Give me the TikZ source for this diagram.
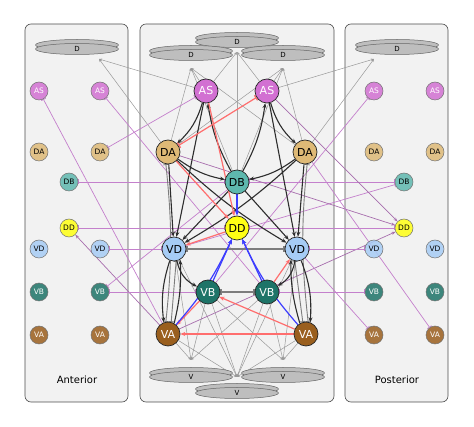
\documentclass[tikz,border=0pt]{standalone}
\usepackage{fontspec}
\setmainfont{DejaVu Sans}
\usetikzlibrary{arrows.meta,shapes.geometric}

\definecolor{ascol}{RGB}{210,112,210}
\definecolor{dacol}{RGB}{222,185,118}
\definecolor{dbcol}{RGB}{94,184,174}
\definecolor{ddcol}{RGB}{255,255,20}
\definecolor{vdcol}{RGB}{166,204,245}
\definecolor{vbcol}{RGB}{30,116,104}
\definecolor{vacol}{RGB}{154,95,30}
\definecolor{discgray}{RGB}{190,190,190}
\definecolor{panelbg}{RGB}{242,242,242}
\definecolor{purp}{RGB}{196,128,204}
\definecolor{redl}{RGB}{255,110,110}
\definecolor{bluel}{RGB}{60,60,255}
\definecolor{darkl}{RGB}{45,45,45}
\definecolor{grayl}{RGB}{125,125,125}

\pgfdeclarelayer{panels}
\pgfdeclarelayer{edges}
\pgfsetlayers{panels,edges,main}

\tikzstyle{panel} = [draw=black!70, fill=panelbg, line width=0.6pt, rounded corners=6pt]
\tikzstyle{cell} = [circle, draw=black!85, line width=0.7pt, minimum size=24pt, inner sep=0pt, font=\fontsize{11}{11}\selectfont]
\tikzstyle{small} = [circle, draw=black!55, line width=0.5pt, minimum size=18pt, inner sep=0pt, font=\fontsize{7.5}{7.5}\selectfont, fill opacity=0.85, text opacity=1]
\tikzstyle{disc} = [ellipse, draw=black!60, fill=discgray, line width=0.5pt, minimum width=83pt, minimum height=11pt, inner sep=0pt, font=\fontsize{7}{7}\selectfont, preaction={draw=black!60, fill=discgray, transform canvas={yshift=4pt}}]
\tikzstyle{exc} = [draw=darkl, line width=1.1pt, -{Stealth[length=5pt,width=4pt]}]
\tikzstyle{gap} = [draw=grayl, line width=1.4pt, {Bar[width=6pt]}-{Bar[width=6pt]}]
\tikzstyle{thingap} = [draw=grayl, line width=0.9pt, {Bar[width=5pt]}-{Bar[width=5pt]}]
\tikzstyle{redexc} = [draw=redl, line width=1.2pt, -{Stealth[length=5pt,width=4pt]}]
\tikzstyle{redgap} = [draw=redl, line width=1.2pt, {Bar[width=6pt]}-{Bar[width=6pt]}]
\tikzstyle{blueexc} = [draw=bluel, line width=1.2pt, -{Stealth[length=5pt,width=4pt]}]
\tikzstyle{pgap} = [draw=purp, line width=0.7pt, {Bar[width=5pt]}-{Bar[width=5pt]}]
\tikzstyle{pinh} = [draw=purp, line width=0.7pt, -{Bar[width=5pt]}]
\tikzstyle{pexc} = [draw=purp!85!black, line width=0.7pt, -{Stealth[length=4pt,width=3pt]}]
\tikzstyle{dline} = [draw=black!40, line width=0.5pt, -{Stealth[length=3pt,width=2.5pt]}]

\begin{document}
\begin{tikzpicture}[x=1pt, y=-1pt]
\useasboundingbox (0,0) rectangle (474,427);

\begin{pgfonlayer}{panels}
\draw[panel] (25,24) rectangle (128,402);
\draw[panel] (140,24) rectangle (334,402);
\draw[panel] (345,24) rectangle (448,402);
\end{pgfonlayer}

% anterior side
\node[disc] (LD) at (77,49) {D};
\coordinate (LDtip) at (99,59);
\node[small, fill=ascol, text=white] (LASa) at (39,91) {AS};
\node[small, fill=ascol, text=white] (LASb) at (100,91) {AS};
\node[small, fill=dacol] (LDAa) at (39,152) {DA};
\node[small, fill=dacol] (LDAb) at (100,152) {DA};
\node[small, fill=dbcol] (LDB) at (69,182) {DB};
\node[small, fill=ddcol] (LDD) at (69,228) {DD};
\node[small, fill=vdcol] (LVDa) at (39,249) {VD};
\node[small, fill=vdcol] (LVDb) at (100,249) {VD};
\node[small, fill=vbcol, text=white] (LVBa) at (39,292) {VB};
\node[small, fill=vbcol, text=white] (LVBb) at (100,292) {VB};
\node[small, fill=vacol, text=white] (LVAa) at (39,335) {VA};
\node[small, fill=vacol, text=white] (LVAb) at (100,335) {VA};
\node[font=\fontsize{10}{10}\selectfont] (ant) at (77,380) {Anterior};

% posterior side
\node[disc] (RD) at (397,49) {D};
\coordinate (RDtip) at (374,59);
\node[small, fill=ascol, text=white] (RASa) at (374,91) {AS};
\node[small, fill=ascol, text=white] (RASb) at (435,91) {AS};
\node[small, fill=dacol] (RDAa) at (374,152) {DA};
\node[small, fill=dacol] (RDAb) at (435,152) {DA};
\node[small, fill=dbcol] (RDB) at (404,182) {DB};
\node[small, fill=ddcol] (RDD) at (404,228) {DD};
\node[small, fill=vdcol] (RVDa) at (374,249) {VD};
\node[small, fill=vdcol] (RVDb) at (435,249) {VD};
\node[small, fill=vbcol, text=white] (RVBa) at (374,292) {VB};
\node[small, fill=vbcol, text=white] (RVBb) at (435,292) {VB};
\node[small, fill=vacol, text=white] (RVAa) at (374,335) {VA};
\node[small, fill=vacol, text=white] (RVAb) at (435,335) {VA};
\node[font=\fontsize{10}{10}\selectfont] (post) at (397,380) {Posterior};

% middle segment
\node[disc] (Dt) at (237,42) {D};
\node[disc] (Dl) at (191,55) {D};
\node[disc] (Dr) at (283,55) {D};
\coordinate (Dttip) at (237,52);
\coordinate (Dltip) at (191,68);
\coordinate (Drtip) at (283,68);
\node[cell, fill=ascol, text=white] (ASl) at (206,91) {AS};
\node[cell, fill=ascol, text=white] (ASr) at (267,91) {AS};
\node[cell, fill=dacol] (DAl) at (168,152) {DA};
\node[cell, fill=dacol] (DAr) at (305,152) {DA};
\node[cell, fill=dbcol] (DB) at (237,182) {DB};
\node[cell, fill=ddcol] (DD) at (237,228) {DD};
\node[cell, fill=vdcol] (VDl) at (174,249) {VD};
\node[cell, fill=vdcol] (VDr) at (297,249) {VD};
\node[cell, fill=vbcol, text=white] (VBl) at (208,292) {VB};
\node[cell, fill=vbcol, text=white] (VBr) at (267,292) {VB};
\node[cell, fill=vacol, text=white] (VAl) at (168,334) {VA};
\node[cell, fill=vacol, text=white] (VAr) at (306,334) {VA};
\node[disc] (Vl) at (191,377) {V};
\node[disc] (Vr) at (283,377) {V};
\node[disc] (Vb) at (237,393) {V};
\coordinate (Vltip) at (191,360);
\coordinate (Vrtip) at (283,360);
\coordinate (Vbtip) at (237,377);

\begin{pgfonlayer}{edges}
% to the D and V muscles
\foreach \n in {ASl, DAl, DB, DAr} \draw[dline] (\n) -- (Dltip);
\foreach \n in {ASr, DAr, DB, DAl} \draw[dline] (\n) -- (Drtip);
\foreach \n in {ASl, ASr} \draw[dline] (\n) -- (Dttip);
\draw[dline, line width=1pt, draw=black!35] (DB) -- (Dttip);
\draw[dline] (ASl) -- (LDtip);
\draw[dline] (DAl) -- (LDtip);
\draw[dline] (ASr) -- (RDtip);
\draw[dline] (DAr) -- (RDtip);
\foreach \n in {VAl, VBl, VDl, VBr} \draw[dline] (\n) -- (Vltip);
\foreach \n in {VAr, VBr, VDr, VBl} \draw[dline] (\n) -- (Vrtip);
\foreach \n in {VAl, VBl, VBr, VAr, VDl, VDr} \draw[dline] (\n) -- (Vbtip);

% to the neighbouring segments
\draw[pinh] (VAl) -- (LASa);
\draw[pinh] (VBr) -- (LASb);
\draw[pgap] (ASl) -- (LDAb);
\draw[pgap] (DB) -- (LDB);
\draw[pgap] (DD) -- (LDD);
\draw[pexc] (VAl) -- (LDD);
\draw[pgap] (VDl) -- (LVDb);
\draw[pgap] (VBl) -- (LVBb);
\draw[pinh] (DB) -- (LVBb);
\draw[pinh] (VBl) -- (RASa);
\draw[pgap] (DB) -- (RDB);
\draw[pinh] (VDl) -- (RDB);
\draw[pgap] (DD) -- (RDD);
\draw[pexc] (ASr) -- (RDD);
\draw[pexc] (DAl) -- (RDD);
\draw[pexc] (VAl) -- (RDD);
\draw[pgap] (VDr) -- (RVDa);
\draw[pgap] (VBr) -- (RVBa);
\draw[pinh] (VDr) -- (RVAa);
\draw[pinh] (DAr) -- (RVAb);

% gap junctions
\draw[gap] (VDl) -- (VDr);
\draw[gap] (VBl) -- (VBr);
\draw[thingap] (DAl.260) to[bend left=6] (VAl.100);
\draw[thingap] (DAr.280) to[bend right=6] (VAr.80);
\draw[thingap] (VDl.280) -- (VAl.75);
\draw[thingap] (VDr.260) -- (VAr.105);

% excitatory
\draw[exc] (ASl) to[bend left=15] (DAl);
\draw[exc] (ASr) to[bend right=15] (DAr);
\draw[exc] (DB) to[bend left=10] (ASl);
\draw[exc] (DB) to[bend right=10] (ASr);
\draw[exc] (ASl) -- (VDl);
\draw[exc] (ASr) -- (VDr);
\draw[exc] (DAl) to[bend right=12] (DB);
\draw[exc] (DAr) to[bend left=12] (DB);
\draw[exc] (DAl) -- (VDl);
\draw[exc] (DAr) -- (VDr);
\draw[exc] (DAl) to[bend right=6] (VDr);
\draw[exc] (DAr) to[bend left=6] (VDl);
\draw[exc] (DB) -- (VDl);
\draw[exc] (DB) -- (VDr);
\draw[exc] (VDl) to[bend right=25] (VBl);
\draw[exc] (VDr) to[bend left=25] (VBr);
\draw[exc] (VDl.250) to[bend right=12] (VAl.110);
\draw[exc] (VAl.60) to[bend right=8] (VDl.300);
\draw[exc] (VDr.290) to[bend left=12] (VAr.70);
\draw[exc] (VAr.120) to[bend left=8] (VDr.240);

% inhibitory and DD inputs
\draw[redgap] (DAl) -- (ASr);
\draw[redexc] (ASl) -- (DD);
\draw[redexc] (DAl) -- (DD);
\draw[redexc] (DD) -- (VDl);
\draw[redexc] (VBl) -- (VAl);
\draw[redexc] (VAr) -- (VBl);
\draw[redexc] (VAr) -- (VAl);
\draw[redexc] (VBr) -- (VDr);
\draw[blueexc] (DB) -- (DD);
\draw[blueexc] (VAl) to[bend right=8] (DD);
\draw[blueexc] (VBl) -- (DD);
\draw[blueexc] (VBr) -- (DD);
\draw[blueexc] (VAr) to[bend left=8] (DD);
\end{pgfonlayer}

\end{tikzpicture}
\end{document}
